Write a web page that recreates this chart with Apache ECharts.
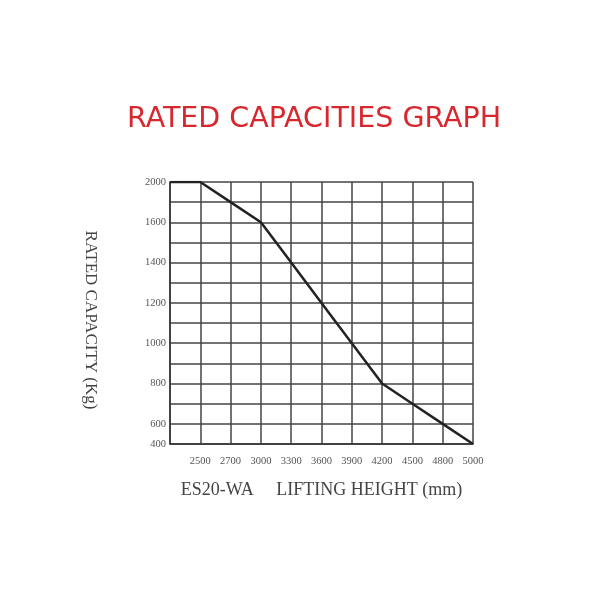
<!DOCTYPE html>
<html><head><meta charset="utf-8">
<script src="https://cdn.jsdelivr.net/npm/echarts@6/dist/echarts.min.js"></script>
<style>html,body{margin:0;padding:0;background:#fff}#c{width:600px;height:600px}</style>
</head><body><div id="c"></div>
<script>
// Lifting height categories (first grid column carries no label in the original)
var heights = ['', '2500', '2700', '3000', '3300', '3600', '3900', '4200', '4500', '4800', '5000'];
// Capacity grid rows, bottom to top (non-linear scale of the original sheet)
var capacityRows = ['400', '600', '700', '800', '900', '1000', '1100', '1200', '1300', '1400', '1500', '1600', '1800', '2000'];
// Capacity labels that are printed on the axis
var capacityLabels = ['400', '600', '800', '1000', '1200', '1400', '1600', '2000'];
// Rated capacity (kg) at each lifting height
var capacity = ['2000', '2000', '1800', '1600', '1400', '1200', '1000', '800', '700', '600', '400'];

var chart = echarts.init(document.getElementById('c'));
var serif = "'Liberation Serif', 'DejaVu Serif', serif";
chart.setOption({
  animation: false,
  backgroundColor: '#fff',
  title: {
    text: 'RATED CAPACITIES GRAPH',
    left: 127, top: 105, padding: 0,
    textStyle: { color: '#d6282e', fontSize: 28.5, fontWeight: 'normal', fontFamily: "'DejaVu Sans', sans-serif" }
  },
  graphic: [{
    type: 'text',
    x: 90, y: 320,
    rotation: -Math.PI / 2,
    style: {
      text: 'RATED CAPACITY (Kg)',
      fill: '#444', font: "17px 'Liberation Serif', serif",
      textAlign: 'center', textVerticalAlign: 'middle'
    }
  }],
  grid: { left: 170, right: 127, top: 182, bottom: 156 },
  xAxis: {
    type: 'category', data: heights, boundaryGap: false,
    name: 'ES20-WA     LIFTING HEIGHT (mm)', nameLocation: 'middle', nameGap: 37,
    nameTextStyle: { fontFamily: serif, fontSize: 18, color: '#444' },
    axisLine: { show: true, lineStyle: { color: '#333', width: 1.5 } },
    axisTick: { show: false },
    axisLabel: { interval: 0, margin: 12, fontFamily: serif, fontSize: 10.5, color: '#555' },
    splitLine: { show: true, interval: 0, lineStyle: { color: '#444', width: 1.5 } }
  },
  yAxis: {
    type: 'category', data: capacityRows, boundaryGap: false,
    axisLine: { show: true, lineStyle: { color: '#333', width: 1.5 } },
    axisTick: { show: false },
    axisLabel: {
      interval: 0, margin: 4, fontFamily: serif, fontSize: 10.5, color: '#555',
      formatter: function (v) { return capacityLabels.indexOf(v) >= 0 ? v : ''; }
    },
    splitLine: { show: true, interval: 0, lineStyle: { color: '#444', width: 1.5 } }
  },
  series: [{
    type: 'line',
    data: heights.map(function (h, i) { return [i, capacityRows.indexOf(capacity[i])]; }),
    symbol: 'none',
    lineStyle: { color: '#222', width: 2.5 }
  }]
});
</script></body></html>
